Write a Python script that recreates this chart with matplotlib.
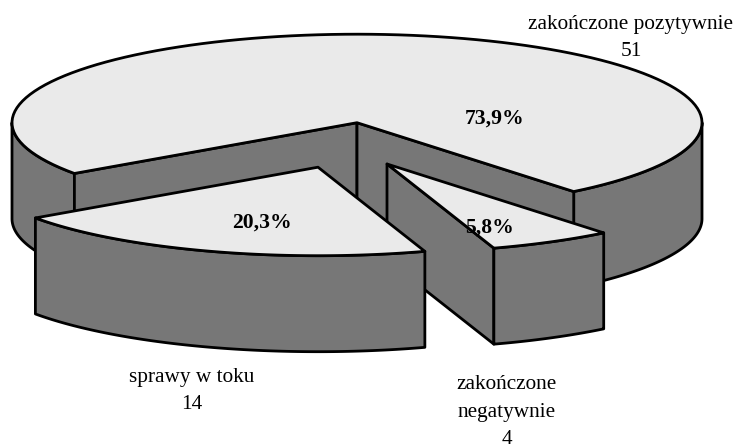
import numpy as np
import matplotlib
matplotlib.use("Agg")
import matplotlib.pyplot as plt
from matplotlib.patches import Polygon

labels = ["zakończone pozytywnie", "zakończone\nnegatywnie", "sprawy w toku"]
values = [51, 4, 14]
percent_labels = ["73,9%", "5,8%", "20,3%"]

# pie geometry in pixels of the picture
CX, CY = 357, 122.7
RX, RY = 345, 88.5
DEPTH = 96
START = 215
offsets = [(0, 0), (30, 41.3), (-39, 44.5)]
TOP = "#eaeaea"
SIDE = "#777777"
LW = 2.0

plt.rcParams["font.family"] = ["Liberation Serif", "DejaVu Serif"]


def arc(cx, cy, t1, t2):
    t = np.radians(np.linspace(t1, t2, 120))
    return np.column_stack([cx + RX * np.cos(t), cy - RY * np.sin(t)])


def poly(ax, pts, color):
    ax.add_patch(Polygon(pts, closed=True, facecolor=color, edgecolor="black",
                         linewidth=LW, joinstyle="round"))


def wall(ax, pts):
    low = pts[::-1] + [0, DEPTH]
    poly(ax, np.vstack([pts, low]), SIDE)


def draw_slice(ax, cx, cy, t1, t2):
    # t1 > t2, slices go clockwise
    apex = np.array([cx, cy])
    edge = arc(cx, cy, t1, t2)
    if t1 - t2 > 180:
        # big slice: outer wall only where it faces the viewer, both radial sides
        wall(ax, arc(cx, cy, t1, 180))
        wall(ax, arc(cx, cy, 0, t2))
        wall(ax, np.array([apex, edge[0]]))
        wall(ax, np.array([apex, edge[-1]]))
    else:
        if edge[0][0] > cx and edge[-1][0] > cx:
            # small slice: left radial side is visible
            wall(ax, np.array([apex, edge[-1]]))
        wall(ax, edge)
    poly(ax, np.vstack([apex, edge]), TOP)


fig = plt.figure(figsize=(7.36, 4.48), dpi=100)
ax = fig.add_axes([0, 0, 1, 1])
ax.set_xlim(0, 736)
ax.set_ylim(448, 0)
ax.axis("off")

total = sum(values)
t = START
for v, off in zip(values, offsets):
    sweep = 360 * v / total
    draw_slice(ax, CX + off[0], CY + off[1], t, t - sweep)
    t -= sweep

pct_pos = [(495, 119), (490, 228), (262, 223)]
for s, (x, y) in zip(percent_labels, pct_pos):
    ax.text(x, y, s, ha="center", va="center", fontsize=15.6, fontweight="bold")

label_pos = [(631, 38), (506.5, 412), (192, 391)]
for s, v, (x, y) in zip(labels, values, label_pos):
    ax.text(x, y, f"{s}\n{v}", ha="center", va="center", fontsize=15.3, linespacing=1.58)

fig.savefig("out.png", dpi=100)
